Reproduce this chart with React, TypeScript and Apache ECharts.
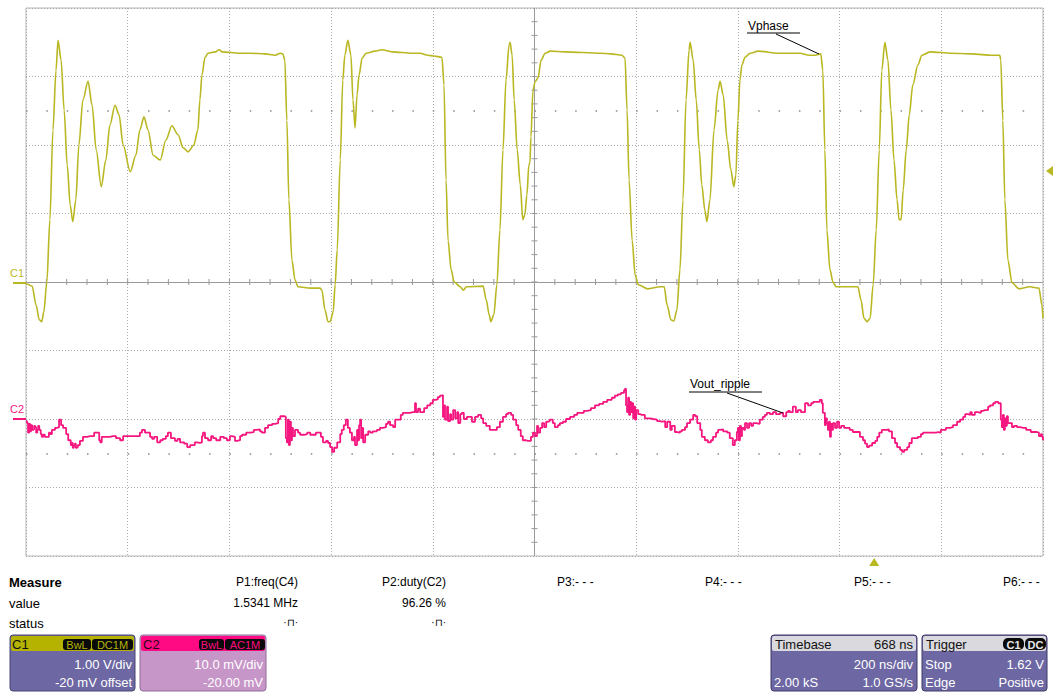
import React, { useEffect, useRef } from "react";
import * as echarts from "echarts";

// Oscilloscope capture: 10 div x 200 ns/div, C1 1.00 V/div, C2 10.0 mV/div
const timeRangeNs = [0, 2000];
const c1RangeV = [-4, 4];
const c2RangeMv = [-20, 60];

const c1Trace: [number, number][] = [
  [0, -0.04], [2, -0.03], [12, -0.06], [20, -0.34], [26, -0.55], [31, -0.58], [35, -0.44], [41, 0], [47, 0.91], [53, 2.22],
  [59, 3.09], [63, 3.53], [69, 3.24], [75, 2.51], [81, 1.71], [87, 1.12], [92, 0.88], [98, 1.2], [104, 2.0], [112, 2.66],
  [122, 2.93], [130, 2.58], [138, 1.93], [148, 1.39], [157, 1.78], [165, 2.29], [175, 2.58], [183, 2.44], [191, 2.0], [205, 1.61],
  [216, 1.85], [224, 2.22], [232, 2.41], [240, 2.22], [250, 1.85], [264, 1.78], [275, 2.07], [287, 2.28], [299, 2.15], [309, 1.96],
  [319, 1.9], [330, 2.0], [338, 2.22], [342, 2.66], [346, 3.02], [352, 3.28], [358, 3.34], [372, 3.36], [380, 3.39], [386, 3.36],
  [420, 3.34], [441, 3.34], [470, 3.33], [490, 3.31], [500, 3.34], [505, 3.33], [509, 3.24], [513, 2.36], [517, 1.2], [523, 0.32],
  [529, 0.03], [535, -0.07], [560, -0.09], [578, -0.09], [582, -0.12], [588, -0.41], [594, -0.58], [598, -0.58], [604, -0.44], [608, -0.04],
  [612, 0.47], [618, 1.78], [623, 2.95], [627, 3.31], [633, 3.53], [639, 3.31], [643, 2.66], [647, 2.25], [651, 2.73], [655, 3.02],
  [661, 3.27], [669, 3.34], [686, 3.37], [700, 3.39], [720, 3.36], [760, 3.34], [775, 3.34], [790, 3.31], [802, 3.3], [818, 3.28],
  [822, 2.88], [826, 1.49], [830, 0.61], [836, 0.18], [842, 0], [854, -0.07], [860, -0.12], [866, -0.07], [899, -0.06], [905, -0.26],
  [911, -0.48], [914, -0.58], [920, -0.48], [926, -0.04], [932, 0.76], [938, 1.93], [944, 2.95], [950, 3.46], [952, 3.5], [956, 3.31],
  [960, 2.66], [966, 1.93], [972, 1.42], [977, 0.91], [981, 0.98], [985, 1.27], [989, 1.71], [991, 1.74], [993, 2.12], [997, 2.8],
  [1001, 2.92], [1007, 2.98], [1013, 3.24], [1021, 3.34], [1031, 3.37], [1060, 3.36], [1129, 3.34], [1150, 3.33], [1172, 3.31], [1178, 3.27],
  [1182, 2.51], [1186, 1.49], [1192, 0.61], [1198, 0.1], [1204, -0.04], [1223, -0.1], [1247, -0.07], [1255, -0.07], [1261, -0.34], [1268, -0.55],
  [1274, -0.57], [1280, -0.41], [1286, 0.18], [1292, 1.2], [1298, 2.66], [1304, 3.39], [1306, 3.5], [1312, 3.24], [1318, 2.66], [1324, 1.93],
  [1329, 1.42], [1335, 1.05], [1339, 0.88], [1345, 1.2], [1353, 2.22], [1361, 2.8], [1365, 2.93], [1371, 2.73], [1379, 2.07], [1386, 1.64],
  [1392, 1.39], [1396, 1.56], [1400, 2.36], [1404, 2.95], [1408, 3.17], [1414, 3.28], [1424, 3.34], [1440, 3.37], [1480, 3.34], [1522, 3.34],
  [1540, 3.31], [1552, 3.31], [1563, 3.33], [1567, 3.09], [1571, 1.93], [1575, 0.76], [1581, 0.18], [1587, 0], [1593, -0.07], [1636, -0.07],
  [1642, -0.26], [1648, -0.53], [1654, -0.58], [1660, -0.53], [1666, -0.04], [1672, 0.76], [1678, 1.93], [1683, 3.09], [1689, 3.5], [1695, 3.24],
  [1701, 2.51], [1707, 1.78], [1713, 1.2], [1717, 0.91], [1721, 0.91], [1725, 1.34], [1731, 1.93], [1737, 2.44], [1744, 2.88], [1754, 3.17],
  [1762, 3.31], [1778, 3.36], [1820, 3.34], [1860, 3.33], [1900, 3.31], [1915, 3.31], [1917, 3.24], [1921, 2.36], [1925, 1.2], [1931, 0.32],
  [1939, -0.01], [1953, -0.1], [1974, -0.07], [1992, -0.09], [1998, -0.34], [2000, -0.53],
];

const c2Trace: [number, number][] = [
  [0, -0.3], [2, -0.6], [4, -2.0], [6, -0.7], [8, -1.8], [10, -0.9], [12, -1.6], [14, -1.5], [16, -1.0], [18, -1.2], [20, -2.0], [22, -1.6], [24, -1.0],
  [26, -1.6], [29, -2.2], [31, -2.6], [34, -2.3], [37, -2.6], [41, -2.6], [45, -2.0], [48, -2.2], [51, -1.6], [57, -1.3], [61, -1.2], [65, -0.1],
  [69, -0.9], [73, -1.3], [79, -2.2], [83, -3.1], [88, -3.8], [90, -3.5], [92, -4.2], [94, -3.9], [96, -3.6], [98, -4.2], [100, -4.1], [102, -3.8], [106, -3.2],
  [112, -2.6], [120, -2.5], [126, -2.5], [134, -2.0], [140, -2.0], [144, -3.1], [146, -3.4], [149, -2.6], [159, -2.6], [165, -2.5],
  [171, -2.5], [177, -2.8], [185, -3.1], [191, -2.5], [199, -2.5], [214, -2.5], [224, -2.0], [228, -1.6], [234, -2.0], [238, -2.0],
  [244, -2.6], [248, -2.9], [252, -2.6], [258, -3.4], [264, -3.1], [269, -2.9], [275, -2.5], [279, -2.0], [285, -2.8], [293, -3.2], [298, -2.9], [303, -3.4],
  [311, -3.6], [317, -4.1], [323, -3.8], [328, -3.8], [332, -3.4], [336, -3.5], [342, -3.4], [346, -2.5], [348, -2.0], [352, -2.8], [358, -3.1],
  [364, -2.5], [368, -2.8], [374, -3.1], [382, -2.6], [389, -2.8], [395, -3.1], [401, -2.5], [405, -2.6], [411, -3.2], [415, -3.1],
  [421, -2.5], [425, -2.3], [433, -2.0], [441, -1.9], [448, -1.6], [454, -1.5], [460, -1.8], [464, -2.0], [470, -1.3], [476, -0.9],
  [484, -0.7], [490, -0.6], [496, 0], [500, 0.4], [505, 0.4], [509, 0.3], [511, -2.8], [513, -3.4], [515, -0.1], [517, -3.8],
  [519, -0.4], [521, -3.1], [523, -1.3], [525, -2.5], [529, -1.6], [535, -2.0], [539, -2.3], [547, -2.2], [553, -2.0], [559, -2.3],
  [564, -2.3], [570, -2.0], [574, -2.0], [580, -2.6], [584, -3.4], [590, -3.2], [594, -3.5], [598, -4.1], [602, -4.8], [606, -4.2],
  [612, -3.4], [618, -2.2], [621, -1.6], [625, -0.9], [629, -0.1], [633, -1.3], [637, -2.0], [641, -3.1], [645, -2.6], [647, -3.8],
  [651, -1.6], [653, -3.1], [655, -0.9], [657, -0.1], [659, -2.8], [661, -1.3], [663, -3.4], [667, -2.3], [673, -1.8], [677, -2.0],
  [682, -1.8], [690, -1.6], [696, -1.3], [702, -1.2], [708, -0.7], [712, -0.4], [716, -0.9], [722, -1.2], [726, -0.1], [732, -0.1],
  [737, 0.6], [741, 0.9], [747, 0.9], [755, 1.0], [761, 1.0], [765, 2.3], [767, 1.0], [771, 1.5], [775, 1.0], [783, 1.6],
  [789, 2.0], [795, 2.3], [800, 2.8], [806, 2.9], [810, 3.2], [814, 3.4], [818, 3.5], [820, 0.3], [822, 2.0], [824, -0.1],
  [828, 1.8], [830, -0.3], [834, 0.7], [836, -0.1], [840, 1.3], [844, 0.1], [848, 1.0], [850, -0.6], [854, 0.7], [857, 0.9],
  [861, 0], [867, 0.3], [873, 0.3], [877, -0.4], [883, 0.3], [889, 0.6], [895, 0.1], [899, -0.6], [905, -1.0], [912, -1.6],
  [918, -1.6], [926, -1.2], [932, -0.4], [938, 0.3], [944, 0.7], [948, 0.9], [954, 0.6], [958, -0.1], [964, -0.9], [968, -1.6],
  [973, -2.5], [977, -3.1], [983, -3.2], [987, -3.2], [993, -2.6], [997, -2.0], [1001, -2.5], [1005, -1.0], [1007, -2.0], [1011, -1.3],
  [1015, -0.6], [1019, -1.2], [1023, -0.4], [1027, -0.3], [1030, -0.1], [1036, -0.6], [1040, -1.2], [1046, -0.9], [1050, -0.6], [1056, -0.4],
  [1062, 0], [1070, 0.3], [1078, 0.6], [1084, 0.9], [1090, 0.9], [1097, 1.2], [1103, 1.3], [1111, 1.6], [1119, 2.0], [1127, 2.2],
  [1135, 2.5], [1143, 2.8], [1152, 3.1], [1158, 3.4], [1164, 3.6], [1170, 3.8], [1176, 4.2], [1178, 4.4], [1180, 2.0], [1182, 1.0],
  [1184, 3.1], [1186, 0.6], [1188, 2.5], [1190, 1.0], [1192, 2.3], [1194, 0.1], [1196, 1.8], [1198, -0.1], [1200, 1.3], [1204, 0.7],
  [1208, 0.6], [1211, 0.6], [1217, 0.1], [1221, 0.1], [1227, 0], [1233, -0.1], [1241, -0.3], [1247, -0.4], [1251, -0.3], [1257, -1.2],
  [1261, -0.4], [1267, -1.6], [1270, -1.0], [1276, -1.9], [1280, -2.0], [1286, -1.8], [1290, -1.6], [1296, -1.2], [1300, -0.6], [1306, -0.1],
  [1312, 0.6], [1316, 0.4], [1320, -0.6], [1326, -1.6], [1329, -2.6], [1335, -3.1], [1341, -3.4], [1347, -3.1], [1351, -2.6], [1357, -2.0],
  [1361, -1.6], [1365, -1.5], [1371, -1.8], [1379, -2.0], [1384, -2.8], [1390, -3.8], [1394, -3.1], [1398, -1.9], [1400, -1.3], [1402, -3.1],
  [1404, -1.0], [1406, -2.5], [1408, -1.3], [1412, -1.6], [1414, -0.6], [1418, -1.3], [1422, -0.6], [1426, -1.0], [1430, -0.6], [1436, -0.7],
  [1443, -0.1], [1449, 0.3], [1453, 0.6], [1457, 0.9], [1463, 0.7], [1469, 1.0], [1475, 0.7], [1483, 0.9], [1489, 0.4], [1495, 1.0],
  [1499, 1.2], [1502, 1.0], [1508, 1.8], [1514, 1.0], [1518, 1.3], [1524, 1.0], [1528, 1.0], [1532, 2.3], [1538, 2.0], [1544, 2.3],
  [1548, 2.5], [1556, 2.5], [1561, 2.8], [1565, 2.3], [1567, 0.9], [1571, -0.9], [1573, 0.1], [1575, -0.6], [1577, -1.6], [1579, -0.4],
  [1581, -2.6], [1583, -0.7], [1585, -1.6], [1587, -0.6], [1591, -1.3], [1595, -0.4], [1599, -1.3], [1603, -1.0], [1609, -1.3], [1617, -1.3],
  [1620, -1.6], [1626, -1.9], [1634, -1.9], [1640, -2.6], [1646, -3.1], [1650, -3.6], [1654, -4.1], [1658, -3.9], [1664, -3.5], [1670, -3.2],
  [1674, -2.6], [1678, -2.0], [1683, -1.6], [1689, -1.6], [1693, -1.5], [1697, -1.8], [1703, -2.8], [1709, -3.5], [1713, -4.1], [1719, -4.5],
  [1723, -4.8], [1727, -4.5], [1733, -4.1], [1737, -3.5], [1742, -2.8], [1748, -2.8], [1754, -2.6], [1760, -2.2], [1764, -2.0], [1772, -2.0],
  [1782, -2.0], [1790, -1.9], [1794, -2.0], [1799, -1.6], [1803, -1.6], [1809, -1.3], [1817, -1.2], [1823, -0.9], [1831, -0.4], [1837, -0.1],
  [1843, 0.3], [1847, 0.7], [1853, 0.6], [1857, 1.0], [1860, 0.6], [1866, 1.0], [1872, 0.9], [1878, 1.2], [1882, 1.3], [1886, 1.3],
  [1892, 1.8], [1896, 2.0], [1902, 2.3], [1906, 2.5], [1912, 2.3], [1915, 2.3], [1917, -0.1], [1919, -1.2], [1921, 0.6], [1923, -1.6],
  [1925, 0.1], [1927, -1.0], [1929, 0.4], [1931, -0.6], [1935, -0.6], [1939, -1.2], [1943, -1.0], [1949, -1.2], [1955, -1.3], [1961, -1.3],
  [1967, -1.6], [1972, -1.6], [1976, -1.9], [1982, -1.9], [1988, -2.0], [1992, -2.5], [1996, -2.2], [1998, -2.6], [2000, -3.1],
];

const measureLabels = ["P1:freq(C4)", "P2:duty(C2)", "P3:- - -", "P4:- - -", "P5:- - -", "P6:- - -"];
const measureValues = ["1.5341 MHz", "96.26 %"];
const c1Settings = ["1.00 V/div", "-20 mV offset"];
const c2Settings = ["10.0 mV/div", "-20.00 mV"];
const timebaseDelay = "668 ns";
const timebaseRows = ["200 ns/div", "2.00 kS", "1.0 GS/s"];
const triggerRows = ["Stop", "1.62 V", "Edge", "Positive"];
const triggerTimeNs = 1668;
const triggerLevelV = 1.62;

const C1_COLOR = "#b9b722";
const C2_COLOR = "#f5167f";
const FONT = '"Liberation Sans", Arial, sans-serif';
const GRID = { left: 26, top: 8, width: 1017, height: 548 };

function txt(text: string, x: number, y: number, opts: any = {}) {
  return {
    type: "text",
    x,
    y,
    z: 20,
    style: {
      text,
      fill: opts.fill || "#000",
      font: `${opts.bold ? "bold " : ""}${opts.size || 12}px ${FONT}`,
      align: opts.align || "left",
      verticalAlign: "middle",
    },
  };
}
function box(x: number, y: number, w: number, h: number, fill: string, opts: any = {}) {
  return {
    type: "rect",
    z: opts.z || 10,
    shape: { x, y, width: w, height: h, r: opts.r ?? 3 },
    style: { fill, stroke: opts.stroke || null, lineWidth: opts.lw || 1 },
  };
}

export default function App() {
  const ref = useRef<HTMLDivElement>(null);
  useEffect(() => {
    document.body.style.margin = "0";
    const chart = echarts.init(ref.current!, null, { renderer: "svg" });

    const tickData: number[][] = [];
    for (let t = 40; t < 2000; t += 40) tickData.push([t, 0, 0]);
    for (let v = -3.8; v < 3.85; v += 0.2) tickData.push([1000, Math.round(v * 10) / 10, 1]);

    const dotted = { color: "#a9a9a9", type: [1, 2] as any, width: 1 };

    chart.setOption({
      animation: false,
      backgroundColor: "#ffffff",
      grid: { ...GRID, show: true, borderColor: "#b8b8b8", borderWidth: 1, backgroundColor: "transparent" },
      xAxis: {
        type: "value",
        min: timeRangeNs[0],
        max: timeRangeNs[1],
        interval: 200,
        axisLine: { show: false },
        axisTick: { show: false },
        axisLabel: { show: false },
        splitLine: { show: true, lineStyle: dotted },
      },
      yAxis: [
        {
          type: "value",
          min: c1RangeV[0],
          max: c1RangeV[1],
          interval: 1,
          axisLine: { show: false },
          axisTick: { show: false },
          axisLabel: { show: false },
          splitLine: { show: true, lineStyle: dotted },
        },
        {
          type: "value",
          min: c2RangeMv[0],
          max: c2RangeMv[1],
          interval: 10,
          show: false,
          splitLine: { show: false },
        },
      ],
      series: [
        {
          type: "line",
          name: "grid-marks",
          data: [[0, 0]],
          showSymbol: false,
          lineStyle: { opacity: 0 },
          z: 1,
          silent: true,
          markLine: {
            silent: true,
            symbol: "none",
            label: { show: false },
            data: [
              { xAxis: 1000, lineStyle: { color: "#9a9a9a", type: "solid", width: 1 } },
              { yAxis: 0, lineStyle: { color: "#9a9a9a", type: "solid", width: 1 } },
              { yAxis: 2.5, lineStyle: { color: "#8a8a8a", type: [1.5, 18.84], width: 1.5 } },
              { yAxis: -2.5, lineStyle: { color: "#8a8a8a", type: [1.5, 18.84], width: 1.5 } },
            ],
          },
        },
        {
          type: "custom",
          name: "center-ticks",
          silent: true,
          z: 1,
          data: tickData,
          renderItem: (_p: any, api: any) => {
            const p = api.coord([api.value(0), api.value(1)]);
            const horiz = api.value(2) === 1;
            return {
              type: "line",
              shape: horiz
                ? { x1: p[0] - 3, y1: p[1], x2: p[0] + 3, y2: p[1] }
                : { x1: p[0], y1: p[1] - 3, x2: p[0], y2: p[1] + 3 },
              style: { stroke: "#9a9a9a", lineWidth: 1 },
            };
          },
        },
        {
          type: "line",
          name: "C1",
          yAxisIndex: 0,
          data: c1Trace,
          showSymbol: false,
          symbol: "none",
          smooth: 0.3,
          smoothMonotone: "x",
          lineStyle: { color: C1_COLOR, width: 1.6 },
          z: 5,
        },
        {
          type: "line",
          name: "C2",
          yAxisIndex: 1,
          data: c2Trace,
          showSymbol: false,
          symbol: "none",
          step: "end",
          lineStyle: { color: C2_COLOR, width: 1.8 },
          z: 5,
        },
      ],
    });

    const trigX = chart.convertToPixel({ xAxisIndex: 0, yAxisIndex: 0 }, [triggerTimeNs, 0])[0];
    const trigY = chart.convertToPixel({ xAxisIndex: 0, yAxisIndex: 0 }, [0, triggerLevelV])[1];
    const c1Zero = chart.convertToPixel({ xAxisIndex: 0, yAxisIndex: 0 }, [0, 0])[1];
    const c2Zero = chart.convertToPixel({ xAxisIndex: 0, yAxisIndex: 1 }, [0, 0])[1];
    const bottom = GRID.top + GRID.height;
    const right = GRID.left + GRID.width;

    const g: any[] = [];
    // trigger markers
    g.push({ type: "polygon", z: 20, shape: { points: [[trigX, bottom + 2], [trigX - 5, bottom + 10], [trigX + 5, bottom + 10]] }, style: { fill: C1_COLOR } });
    g.push({ type: "polygon", z: 20, shape: { points: [[right + 3, trigY], [right + 10, trigY - 5], [right + 10, trigY + 5]] }, style: { fill: C1_COLOR } });
    // channel ground markers
    g.push(txt("C1", 10, c1Zero - 9, { fill: C1_COLOR, size: 11 }));
    g.push({ type: "rect", z: 20, shape: { x: 13, y: c1Zero, width: 13, height: 2 }, style: { fill: C1_COLOR } });
    g.push(txt("C2", 10, c2Zero - 10, { fill: C2_COLOR, size: 11 }));
    g.push({ type: "rect", z: 20, shape: { x: 13, y: c2Zero - 1, width: 13, height: 2 }, style: { fill: C2_COLOR } });

    // annotations
    g.push(txt("Vphase", 748, 26, { size: 12 }));
    g.push({ type: "line", z: 20, shape: { x1: 747, y1: 33, x2: 800, y2: 33 }, style: { stroke: "#000", lineWidth: 1 } });
    g.push({ type: "line", z: 20, shape: { x1: 776, y1: 34, x2: 819, y2: 54 }, style: { stroke: "#000", lineWidth: 1 } });
    g.push(txt("Vout_ripple", 690, 384, { size: 12 }));
    g.push({ type: "line", z: 20, shape: { x1: 689, y1: 392, x2: 762, y2: 392 }, style: { stroke: "#000", lineWidth: 1 } });
    g.push({ type: "line", z: 20, shape: { x1: 727, y1: 393, x2: 783, y2: 413 }, style: { stroke: "#000", lineWidth: 1 } });

    // measure table
    g.push(txt("Measure", 9, 582, { bold: true, size: 13 }));
    g.push(txt("value", 9, 603, { size: 13 }));
    g.push(txt("status", 9, 623, { size: 13 }));
    g.push(txt(measureLabels[0], 298, 582, { size: 12, align: "right" }));
    g.push(txt(measureLabels[1], 446, 582, { size: 12, align: "right" }));
    g.push(txt(measureLabels[2], 557, 582, { size: 12 }));
    g.push(txt(measureLabels[3], 705, 582, { size: 12 }));
    g.push(txt(measureLabels[4], 854, 582, { size: 12 }));
    g.push(txt(measureLabels[5], 1003, 582, { size: 12 }));
    g.push(txt(measureValues[0], 298, 603, { size: 12, align: "right" }));
    g.push(txt(measureValues[1], 446, 603, { size: 12, align: "right" }));
    g.push(txt("·⊓·", 298, 622, { size: 10, align: "right" }));
    g.push(txt("·⊓·", 446, 622, { size: 10, align: "right" }));

    // C1 box
    g.push(box(10, 635, 125, 56, "#6d67a3", { stroke: "#4a4670" }));
    g.push(box(11, 636, 123, 15, "#b5b300", { r: 2, z: 11 }));
    g.push(txt("C1", 12, 644, { size: 13, fill: "#111" }));
    g.push(box(63, 639, 28, 11, "#0a0a0a", { r: 3, z: 12 }));
    g.push(txt("BwL", 77, 644.5, { size: 11, fill: "#b5b300", align: "center" }));
    g.push(box(92, 639, 41, 11, "#0a0a0a", { r: 3, z: 12 }));
    g.push(txt("DC1M", 112.5, 644.5, { size: 11, fill: "#b5b300", align: "center" }));
    g.push(txt(c1Settings[0], 132, 664, { size: 13, fill: "#fff", align: "right" }));
    g.push(txt(c1Settings[1], 132, 682, { size: 13, fill: "#fff", align: "right" }));

    // C2 box
    g.push(box(140, 635, 126, 56, "#c796c9", { stroke: "#8f6c98" }));
    g.push(box(141, 636, 124, 15, "#ff0a82", { r: 2, z: 11 }));
    g.push(txt("C2", 143, 644, { size: 13, fill: "#2a0016" }));
    g.push(box(199, 639, 25, 11, "#0a0a0a", { r: 3, z: 12 }));
    g.push(txt("BwL", 211.5, 644.5, { size: 11, fill: "#ff0a82", align: "center" }));
    g.push(box(225, 639, 40, 11, "#0a0a0a", { r: 3, z: 12 }));
    g.push(txt("AC1M", 245, 644.5, { size: 11, fill: "#ff0a82", align: "center" }));
    g.push(txt(c2Settings[0], 263, 664, { size: 13, fill: "#fff", align: "right" }));
    g.push(txt(c2Settings[1], 263, 682, { size: 13, fill: "#fff", align: "right" }));

    // Timebase box
    g.push(box(771, 635, 146, 56, "#6d67a3", { stroke: "#3f3b66" }));
    g.push(box(772, 636, 144, 15, "#d9d9de", { r: 2, z: 11 }));
    g.push(txt("Timebase", 775, 644, { size: 13, fill: "#111" }));
    g.push(txt(timebaseDelay, 913, 644, { size: 13, fill: "#111", align: "right" }));
    g.push(txt(timebaseRows[0], 913, 664, { size: 13, fill: "#fff", align: "right" }));
    g.push(txt(timebaseRows[1], 774, 682, { size: 13, fill: "#fff" }));
    g.push(txt(timebaseRows[2], 913, 682, { size: 13, fill: "#fff", align: "right" }));

    // Trigger box
    g.push(box(922, 635, 125, 56, "#6d67a3", { stroke: "#3f3b66" }));
    g.push(box(923, 636, 123, 15, "#d9d9de", { r: 2, z: 11 }));
    g.push(txt("Trigger", 926, 644, { size: 13, fill: "#111" }));
    g.push(box(1003, 638, 21, 12, "#0a0a0a", { r: 5, z: 12 }));
    g.push(txt("C1", 1013.5, 644.5, { size: 11, fill: "#e8e8e8", align: "center", bold: true }));
    g.push(box(1025, 638, 21, 12, "#0a0a0a", { r: 5, z: 12 }));
    g.push(txt("DC", 1035.5, 644.5, { size: 11, fill: "#e8e8e8", align: "center", bold: true }));
    g.push(txt(triggerRows[0], 925, 664, { size: 13, fill: "#fff" }));
    g.push(txt(triggerRows[1], 1044, 664, { size: 13, fill: "#fff", align: "right" }));
    g.push(txt(triggerRows[2], 925, 682, { size: 13, fill: "#fff" }));
    g.push(txt(triggerRows[3], 1044, 682, { size: 13, fill: "#fff", align: "right" }));

    chart.setOption({ graphic: g });

    return () => chart.dispose();
  }, []);
  return <div ref={ref} style={{ width: 1053, height: 700 }} />;
}
